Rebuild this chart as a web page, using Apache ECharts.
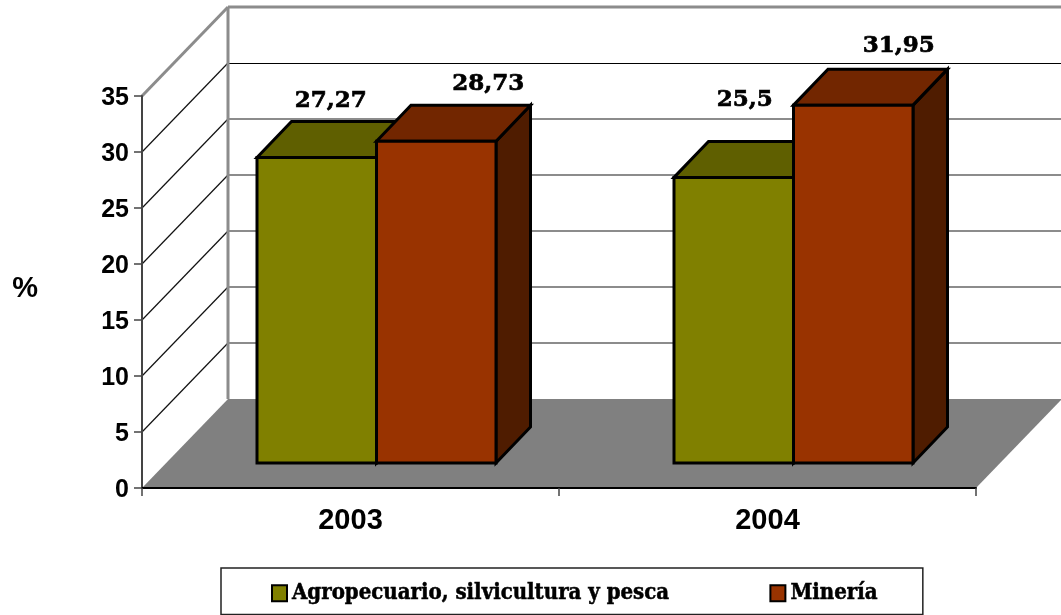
<!DOCTYPE html>
<html>
<head>
<meta charset="utf-8">
<style>html,body{margin:0;padding:0;background:#fff}#chart{width:1061px;height:615px}</style>
<script src="https://cdn.jsdelivr.net/npm/echarts@6/dist/echarts.min.js"></script>
</head>
<body>
<div id="chart"></div>
<script>
const years = ['2003', '2004'];
const agro = [27.27, 25.5];
const mineria = [28.73, 31.95];
const yTicks = [0, 5, 10, 15, 20, 25, 30, 35];

// 3D look: how far the back wall and the bars sit from the front plane
const wallDx = 86, wallDy = 89;
const barDx = 26, barDy = 25, barDepthX = 34.5, barDepthY = 36, barW = 119.5;
const sansFont = '"Liberation Sans"', serifFont = '"DejaVu Serif"';

// the 25,5 label was moved by hand in the original
const labelNudge = { 0: [[14, -57], [11, -77]], 1: [[52, -57], [45.5, -59]] };

function poly(points, fill, stroke, lw) {
    return {
        type: 'polygon',
        shape: { points: points },
        style: { fill: fill, stroke: stroke || null, lineWidth: lw || 0, lineJoin: 'miter' }
    };
}

function seg(x1, y1, x2, y2, stroke, lw) {
    return {
        type: 'line',
        shape: { x1: x1, y1: y1, x2: x2, y2: y2 },
        style: { stroke: stroke, lineWidth: lw }
    };
}

// floor + walls, one call per y tick
function renderWalls(params, api) {
    const band = api.size([1, 0])[0];
    const left = api.coord([0, 0])[0] - band / 2;
    const right = left + band * years.length;
    const y0 = api.coord([0, 0])[1];
    const tick = api.value(0);
    const y = api.coord([0, tick])[1];
    const children = [];
    if (tick === 0) {
        children.push(poly([[left, y0], [right, y0], [right + wallDx, y0 - wallDy], [left + wallDx, y0 - wallDy]], '#808080'));
    } else if (tick === yTicks[yTicks.length - 1]) {
        children.push(seg(left, y, left + wallDx, y - wallDy, '#8c8c8c', 3));
        children.push(seg(left + wallDx, y - wallDy, right + wallDx, y - wallDy, '#8c8c8c', 3));
        children.push(seg(left + wallDx, y - wallDy, left + wallDx, y0 - wallDy, '#8c8c8c', 3));
    } else {
        children.push(seg(left, y, left + wallDx, y - wallDy, '#111', 1.2));
        if (tick === 30) {
            children.push(seg(left + wallDx, y - wallDy + 0.5, right + wallDx, y - wallDy + 0.5, '#000', 1));
        } else {
            children.push(seg(left + wallDx, y - wallDy, right + wallDx, y - wallDy, '#666', 1.5));
        }
    }
    return { type: 'group', children: children };
}

function makeBarRender(seriesIdx, front, top, side) {
    return function (params, api) {
        const cat = api.value(0), val = api.value(1);
        const base = api.coord([cat, 0]);
        const head = api.coord([cat, val]);
        const x0 = base[0] + barDx - barW + seriesIdx * barW;
        const x1 = x0 + barW;
        const yb = base[1] - barDy;
        const yt = head[1] - barDy;
        const nudge = labelNudge[seriesIdx][params.dataIndex];
        return {
            type: 'group',
            children: [
                poly([[x1, yb], [x1 + barDepthX, yb - barDepthY], [x1 + barDepthX, yt - barDepthY], [x1, yt]], side, '#000', 3),
                poly([[x0, yt], [x0 + barDepthX, yt - barDepthY], [x1 + barDepthX, yt - barDepthY], [x1, yt]], top, '#000', 3),
                poly([[x0, yb], [x1, yb], [x1, yt], [x0, yt]], front, '#000', 3),
                {
                    type: 'text',
                    z2: 10,
                    style: {
                        x: (x0 + x1) / 2 + nudge[0],
                        y: yt + nudge[1],
                        text: String(val).replace('.', ','),
                        fill: '#000',
                        stroke: '#000',
                        lineWidth: 0.7,
                        fontFamily: serifFont,
                        fontWeight: 'bold',
                        fontSize: 23,
                        align: 'center',
                        verticalAlign: 'middle'
                    }
                }
            ]
        };
    };
}

const chart = echarts.init(document.getElementById('chart'), null, { renderer: 'canvas' });
chart.setOption({
    animation: false,
    backgroundColor: '#fff',
    grid: { left: 142, top: 96, width: 834, height: 392 },
    xAxis: {
        type: 'category',
        data: years,
        z: 5,
        axisLine: { show: true, lineStyle: { color: '#000', width: 2 } },
        axisTick: { show: true, length: 8, lineStyle: { color: '#444', width: 1.5 } },
        axisLabel: { margin: 18, color: '#000', fontFamily: sansFont, fontWeight: 'bold', fontSize: 29 }
    },
    yAxis: {
        type: 'value',
        min: 0,
        max: 35,
        interval: 5,
        name: '%',
        nameLocation: 'middle',
        nameRotate: 0,
        nameGap: 104,
        nameTextStyle: { color: '#000', fontFamily: sansFont, fontWeight: 'bold', fontSize: 29, verticalAlign: 'bottom', lineHeight: 6 },
        splitLine: { show: false },
        z: 5,
        axisLine: { show: true, lineStyle: { color: '#444', width: 2 } },
        axisTick: { show: true, length: 8, lineStyle: { color: '#444', width: 1.5 } },
        axisLabel: { margin: 13, color: '#000', fontFamily: sansFont, fontWeight: 'bold', fontSize: 25, verticalAlign: 'top', lineHeight: 4 }
    },
    legend: {
        left: 221,
        top: 568,
        data: ['Agropecuario, silvicultura y pesca', 'Minería'],
        icon: 'rect',
        itemWidth: 15,
        itemHeight: 16,
        itemGap: 100,
        padding: [14, 45, 10, 50],
        borderColor: '#222',
        borderWidth: 1.5,
        selectedMode: false,
        textStyle: { color: '#000', fontFamily: '"DejaVu Serif Condensed"', fontWeight: 'bold', fontSize: 22, textBorderColor: '#000', textBorderWidth: 0.5 }
    },
    series: [
        {
            type: 'custom',
            name: 'walls',
            renderItem: renderWalls,
            data: yTicks.map(t => [t]),
            encode: { y: 0 },
            silent: true,
            z: 1
        },
        {
            type: 'custom',
            name: 'Agropecuario, silvicultura y pesca',
            renderItem: makeBarRender(0, '#808000', '#5f5f00', '#4f4f00'),
            data: agro.map((v, i) => [i, v]),
            encode: { x: 0, y: 1 },
            itemStyle: { color: '#808000', borderColor: '#000', borderWidth: 2 },
            z: 3
        },
        {
            type: 'custom',
            name: 'Minería',
            renderItem: makeBarRender(1, '#993300', '#722600', '#4f1c00'),
            data: mineria.map((v, i) => [i, v]),
            encode: { x: 0, y: 1 },
            itemStyle: { color: '#993300', borderColor: '#000', borderWidth: 2 },
            z: 4
        }
    ]
});
</script>
</body>
</html>
